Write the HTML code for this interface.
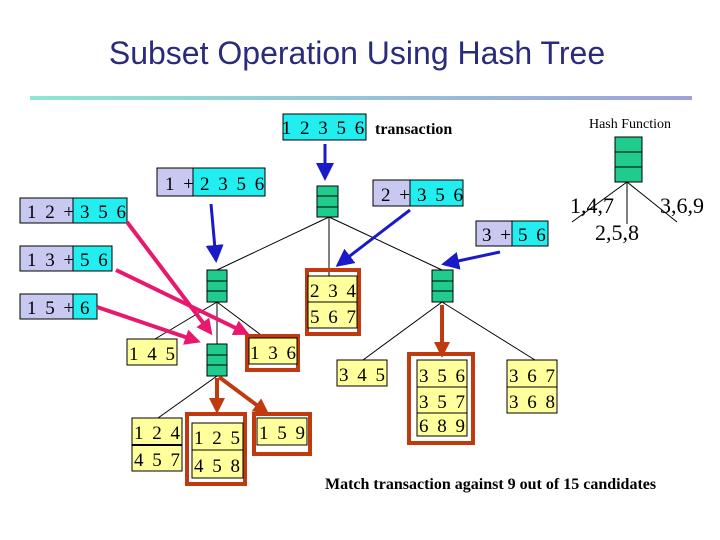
<!DOCTYPE html>
<html><head><meta charset="utf-8"><style>
html,body{margin:0;padding:0;background:#fff;width:720px;height:540px;overflow:hidden}
svg text{font-family:"Liberation Serif",serif}
</style></head><body>
<svg width="720" height="540" viewBox="0 0 720 540" xmlns="http://www.w3.org/2000/svg">
<defs>
<linearGradient id="g" x1="0" x2="1"><stop offset="0" stop-color="#8ee8d0"/><stop offset="1" stop-color="#a0a0dc"/></linearGradient>
<marker id="ab" markerWidth="6" markerHeight="6" refX="5" refY="3" orient="auto" markerUnits="strokeWidth"><path d="M0,0 L6,3 L0,6 z" fill="#1a1ac8"/></marker>
<marker id="ap" markerWidth="4" markerHeight="4" refX="3" refY="2" orient="auto" markerUnits="strokeWidth"><path d="M0,0 L4,2 L0,4 z" fill="#e8186c"/></marker>
<marker id="ar" markerWidth="4" markerHeight="4" refX="3" refY="2" orient="auto" markerUnits="strokeWidth"><path d="M0,0 L4,2 L0,4 z" fill="#c03a10"/></marker>
</defs>
<text x="357" y="64" text-anchor="middle" style="font-family:'Liberation Sans',sans-serif" font-size="32" fill="#2b2b7c">Subset Operation Using Hash Tree</text>
<rect x="30" y="96" width="662" height="4" fill="url(#g)"/>

<!-- tree lines -->
<g stroke="#000" stroke-width="1" fill="none">
<line x1="329" y1="217" x2="217" y2="270"/><line x1="329" y1="217" x2="329" y2="276"/><line x1="329" y1="217" x2="442" y2="270"/>
<line x1="217" y1="302" x2="155" y2="339"/><line x1="217" y1="302" x2="217" y2="344"/><line x1="217" y1="302" x2="265" y2="338"/>
<line x1="442" y1="302" x2="363" y2="360"/><line x1="442" y1="302" x2="535" y2="360"/>
<line x1="217" y1="376" x2="158" y2="418"/>
<line x1="627" y1="182" x2="572" y2="222"/><line x1="627" y1="182" x2="627" y2="224"/><line x1="627" y1="182" x2="677" y2="222"/>
</g>

<!-- hash nodes -->
<g stroke="#000" stroke-width="1" fill="#1fcc8e">
<rect x="317" y="186" width="21" height="31"/><line x1="317" y1="196" x2="338" y2="196"/><line x1="317" y1="207" x2="338" y2="207"/>
<rect x="207" y="270" width="20" height="32"/><line x1="207" y1="281" x2="227" y2="281"/><line x1="207" y1="291" x2="227" y2="291"/>
<rect x="432" y="270" width="21" height="32"/><line x1="432" y1="281" x2="453" y2="281"/><line x1="432" y1="291" x2="453" y2="291"/>
<rect x="207" y="344" width="20" height="32"/><line x1="207" y1="355" x2="227" y2="355"/><line x1="207" y1="365" x2="227" y2="365"/>
<rect x="615" y="137" width="27" height="45"/><line x1="615" y1="152" x2="642" y2="152"/><line x1="615" y1="167" x2="642" y2="167"/>
</g>

<!-- hash function labels -->
<text x="630" y="128" text-anchor="middle" font-size="14">Hash Function</text>
<text x="570" y="213" font-size="22">1,4,7</text>
<text x="660" y="213" font-size="22">3,6,9</text>
<text x="595" y="240" font-size="22">2,5,8</text>

<!-- transaction -->
<rect x="283" y="114" width="83" height="26" fill="#22eef0" stroke="#000"/>
<text x="324" y="134" text-anchor="middle" font-size="19" letter-spacing="2">1 2 3 5 6</text>
<text x="375" y="134" font-size="16" font-weight="bold">transaction</text>

<!-- prefix boxes -->
<g stroke="#000" stroke-width="1">
<rect x="157" y="168" width="36" height="28" fill="#c8c8f0"/><rect x="193" y="168" width="72" height="28" fill="#22eef0"/>
<rect x="20" y="198" width="53" height="25" fill="#c8c8f0"/><rect x="73" y="198" width="54" height="25" fill="#22eef0"/>
<rect x="20" y="246" width="53" height="25" fill="#c8c8f0"/><rect x="73" y="246" width="39" height="25" fill="#22eef0"/>
<rect x="20" y="294" width="53" height="25" fill="#c8c8f0"/><rect x="73" y="294" width="24" height="25" fill="#22eef0"/>
<rect x="373" y="180" width="37" height="26" fill="#c8c8f0"/><rect x="410" y="180" width="53" height="26" fill="#22eef0"/>
<rect x="476" y="221" width="36" height="25" fill="#c8c8f0"/><rect x="512" y="221" width="36" height="25" fill="#22eef0"/>
</g>
<g font-size="19" letter-spacing="2">
<text x="165" y="190">1 +</text><text x="200" y="190">2 3 5 6</text>
<text x="27" y="218">1 2 +</text><text x="80" y="218">3 5 6</text>
<text x="27" y="266">1 3 +</text><text x="80" y="266">5 6</text>
<text x="27" y="314">1 5 +</text><text x="80" y="314">6</text>
<text x="381" y="201">2 +</text><text x="417" y="201">3 5 6</text>
<text x="482" y="241">3 +</text><text x="518" y="241">5 6</text>
</g>

<!-- red frames -->
<g fill="none" stroke="#c03a10" stroke-width="4">
<rect x="307" y="270" width="52" height="64"/>
<rect x="247" y="336" width="51" height="34"/>
<rect x="409" y="354" width="64" height="89"/>
<rect x="187" y="414" width="58" height="70"/>
<rect x="254" y="414" width="56" height="40"/>
</g>

<!-- leaf boxes -->
<g stroke="#000" stroke-width="1" fill="#ffff9c">
<rect x="308" y="276" width="49" height="52"/><line x1="308" y1="302" x2="357" y2="302"/>
<rect x="127" y="339" width="50" height="26"/>
<rect x="249" y="338" width="48" height="26"/>
<rect x="337" y="360" width="50" height="26"/>
<rect x="417" y="360" width="50" height="76"/><line x1="417" y1="387" x2="467" y2="387"/><line x1="417" y1="413" x2="467" y2="413"/>
<rect x="507" y="360" width="50" height="53"/><line x1="507" y1="387" x2="557" y2="387"/>
<rect x="132" y="418" width="50" height="53"/><line x1="132" y1="445" x2="182" y2="445" stroke-width="2"/>
<rect x="192" y="423" width="51" height="55"/><line x1="192" y1="450" x2="243" y2="450"/>
<rect x="257" y="418" width="50" height="27"/>
</g>
<g font-size="19" letter-spacing="2" text-anchor="middle">
<text x="334" y="297">2 3 4</text><text x="334" y="323">5 6 7</text>
<text x="153" y="360">1 4 5</text>
<text x="274" y="359">1 3 6</text>
<text x="363" y="381">3 4 5</text>
<text x="443" y="382">3 5 6</text><text x="443" y="408">3 5 7</text><text x="443" y="432">6 8 9</text>
<text x="533" y="382">3 6 7</text><text x="533" y="408">3 6 8</text>
<text x="158" y="439">1 2 4</text><text x="158" y="466">4 5 7</text>
<text x="218" y="444">1 2 5</text><text x="218" y="472">4 5 8</text>
<text x="283" y="439">1 5 9</text>
</g>

<!-- blue arrows -->
<g stroke="#1a1ac8" stroke-width="3" marker-end="url(#ab)">
<line x1="325" y1="144" x2="325" y2="178"/>
<line x1="211" y1="204" x2="216" y2="260"/>
<line x1="410" y1="210" x2="338" y2="265"/>
<line x1="500" y1="252" x2="444" y2="264"/>
</g>
<!-- pink arrows -->
<g stroke="#e8186c" stroke-width="4" marker-end="url(#ap)">
<line x1="127" y1="222" x2="210" y2="332"/>
<line x1="116" y1="270" x2="246" y2="333"/>
<line x1="97" y1="307" x2="197" y2="341"/>
</g>
<!-- red arrows -->
<g stroke="#c03a10" stroke-width="4" marker-end="url(#ar)">
<line x1="442" y1="305" x2="442" y2="354"/>
<line x1="217" y1="378" x2="217" y2="410"/>
<line x1="219" y1="377" x2="266" y2="412"/>
</g>

<text x="325" y="489" font-size="16" font-weight="bold">Match transaction against 9 out of 15 candidates</text>
</svg>
</body></html>
